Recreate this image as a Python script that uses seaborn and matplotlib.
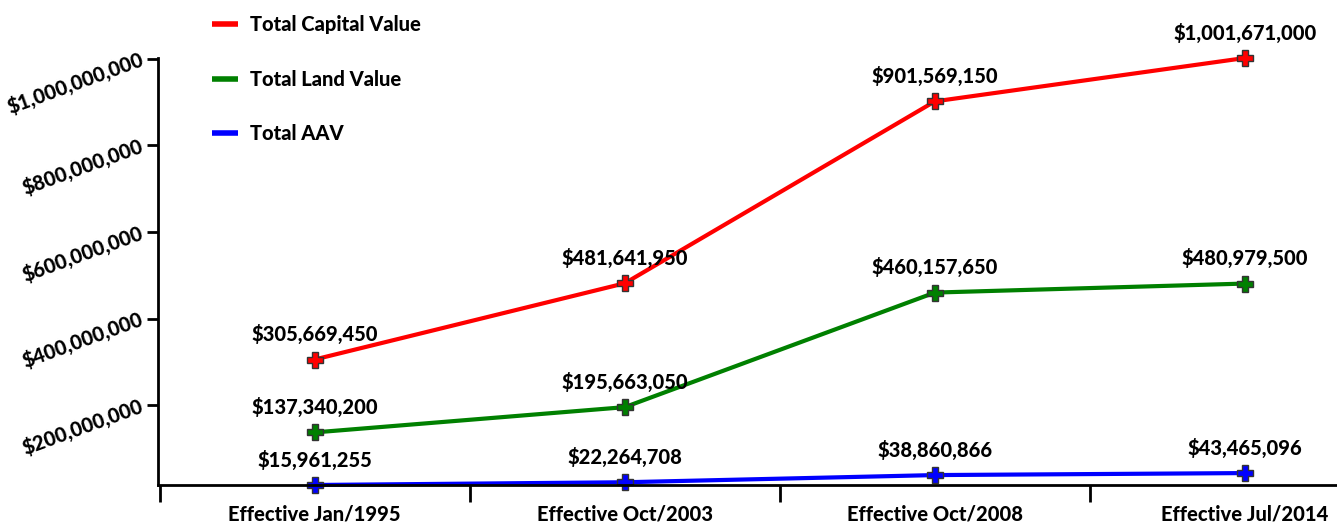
import numpy as np
import pandas as pd
import seaborn as sns
import matplotlib.pyplot as plt
from matplotlib.ticker import FuncFormatter, FixedLocator

periods = ["Effective Jan/1995", "Effective Oct/2003", "Effective Oct/2008", "Effective Jul/2014"]
capital_value = [305669450, 481641950, 901569150, 1001671000]
land_value = [137340200, 195663050, 460157650, 480979500]
aav_value = [15961255, 22264708, 38860866, 43465096]
series_names = ["Total Capital Value", "Total Land Value", "Total AAV"]
series_colors = ["#ff0000", "#008000", "#0000ff"]

df = pd.DataFrame({
    "period": list(range(len(periods))) * 3,
    "value": capital_value + land_value + aav_value,
    "series": [s for s in series_names for _ in periods],
})

sns.set_style("ticks")
plt.rcParams["font.family"] = ["Lato", "DejaVu Sans"]
plt.rcParams["font.weight"] = "black"
plt.rcParams["text.color"] = "black"
plt.rcParams["xtick.color"] = "black"
plt.rcParams["ytick.color"] = "black"
W = "black"

fig = plt.figure(figsize=(13.37, 5.25), dpi=100)
ax = fig.add_axes([0.118, 0.0762, 0.882, 0.8133])

sns.lineplot(
    data=df, x="period", y="value", hue="series",
    palette=dict(zip(series_names, series_colors)),
    linewidth=3, marker="P", markersize=11,
    markeredgecolor="#333333", markeredgewidth=1,
    ax=ax, legend=False, clip_on=False,
)

# value labels above each point
for vals in [capital_value, land_value, aav_value]:
    for i, v in enumerate(vals):
        ax.annotate(f"${v:,}", (i, v), xytext=(0, 11), textcoords="offset points",
                    ha="center", va="bottom", fontsize=14.5, fontweight=W, color="black")

ax.set_xlim(-0.506, 3.297)
ax.set_ylim(min(aav_value), max(capital_value))

ax.set_xticks(range(len(periods)))
ax.set_xticklabels(periods, fontsize=14.5, fontweight=W)
ax.xaxis.set_minor_locator(FixedLocator([-0.5, 0.5, 1.5, 2.5]))
ax.tick_params(axis="x", which="major", length=0, pad=14)
ax.tick_params(axis="x", which="minor", length=12, width=2, direction="out")

ax.set_yticks([2e8, 4e8, 6e8, 8e8, 1e9])
ax.yaxis.set_major_formatter(FuncFormatter(lambda y, _: f"${int(y):,}"))
ax.tick_params(axis="y", length=8, width=2, direction="out", labelsize=14.5, pad=3)
for lbl in ax.get_yticklabels():
    lbl.set_rotation(20)
    lbl.set_fontweight(W)
    lbl.set_va("center")
    lbl.set_rotation_mode("anchor")

ax.set_xlabel("")
ax.set_ylabel("")
for side in ["top", "right"]:
    ax.spines[side].set_visible(False)
for side in ["left", "bottom"]:
    ax.spines[side].set_linewidth(2)
    ax.spines[side].set_color("black")

handles = [plt.Line2D([], [], color=c, linewidth=4, solid_capstyle="butt") for c in series_colors]
fig.legend(handles, series_names, loc="upper left", bbox_to_anchor=(0.145, 1.005),
           frameon=False, handlelength=1.3, handletextpad=0.6, labelspacing=1.75,
           prop={"size": 14.5, "weight": W})

fig.savefig("out.png", dpi=100)
